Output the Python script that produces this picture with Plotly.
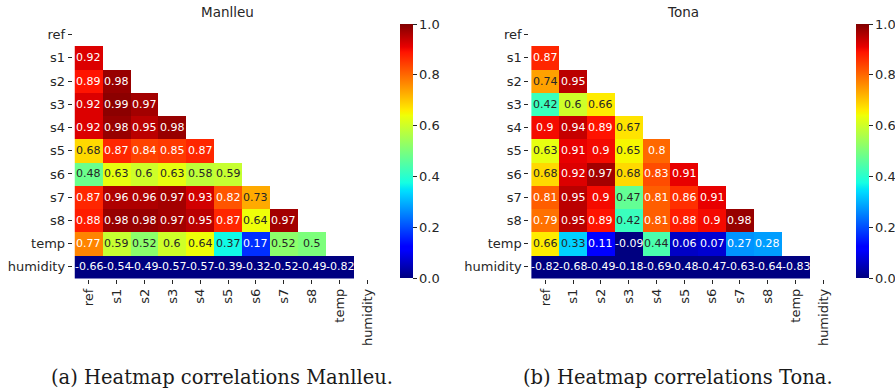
import plotly.graph_objects as go

labels = ["ref", "s1", "s2", "s3", "s4", "s5", "s6", "s7", "s8", "temp", "humidity"]

# lower-triangle correlations (rows s1..humidity, columns ref..)
manlleu_rows = [
    [0.92],
    [0.89, 0.98],
    [0.92, 0.99, 0.97],
    [0.92, 0.98, 0.95, 0.98],
    [0.68, 0.87, 0.84, 0.85, 0.87],
    [0.48, 0.63, 0.60, 0.63, 0.58, 0.59],
    [0.87, 0.96, 0.96, 0.97, 0.93, 0.82, 0.73],
    [0.88, 0.98, 0.98, 0.97, 0.95, 0.87, 0.64, 0.97],
    [0.77, 0.59, 0.52, 0.60, 0.64, 0.37, 0.17, 0.52, 0.50],
    [-0.66, -0.54, -0.49, -0.57, -0.57, -0.39, -0.32, -0.52, -0.49, -0.82],
]
tona_rows = [
    [0.87],
    [0.74, 0.95],
    [0.42, 0.60, 0.66],
    [0.90, 0.94, 0.89, 0.67],
    [0.63, 0.91, 0.90, 0.65, 0.80],
    [0.68, 0.92, 0.97, 0.68, 0.83, 0.91],
    [0.81, 0.95, 0.90, 0.47, 0.81, 0.86, 0.91],
    [0.79, 0.95, 0.89, 0.42, 0.81, 0.88, 0.90, 0.98],
    [0.66, 0.33, 0.11, -0.09, 0.44, 0.06, 0.07, 0.27, 0.28],
    [-0.82, -0.68, -0.49, -0.18, -0.69, -0.48, -0.47, -0.63, -0.64, -0.83],
]
titles = ["Manlleu", "Tona"]
captions = ["(a) Heatmap correlations Manlleu.", "(b) Heatmap correlations Tona."]
cbar_ticks = [0.0, 0.2, 0.4, 0.6, 0.8, 1.0]

# matplotlib 'jet' segment data
JET = {
    "r": [(0, 0), (0.35, 0), (0.66, 1), (0.89, 1), (1, 0.5)],
    "g": [(0, 0), (0.125, 0), (0.375, 1), (0.64, 1), (0.91, 0), (1, 0)],
    "b": [(0, 0.5), (0.11, 1), (0.34, 1), (0.65, 0), (1, 0)],
}


def interp(pts, v):
    for (x0, y0), (x1, y1) in zip(pts[:-1], pts[1:]):
        if x0 <= v <= x1:
            return y0 + (y1 - y0) * (v - x0) / (x1 - x0) if x1 > x0 else y1
    return pts[-1][1]


def jet(v):
    v = min(max(v, 0.0), 1.0)
    return tuple(interp(JET[c], v) for c in "rgb")


stops = sorted({p[0] for c in JET.values() for p in c})
colorscale = []
for s in stops:
    r, g, b = jet(s)
    colorscale.append([s, f"rgb({round(r*255)},{round(g*255)},{round(b*255)})"])


def lum(v):
    rgb = jet(v)
    lin = [c / 12.92 if c <= 0.03928 else ((c + 0.055) / 1.055) ** 2.4 for c in rgb]
    return 0.2126 * lin[0] + 0.7152 * lin[1] + 0.0722 * lin[2]


def build_z(rows):
    n = len(labels)
    z = [[None] * n]
    for r in rows:
        z.append(list(r) + [None] * (n - len(r)))
    return z


W, H = 895, 392
panels = [
    dict(rows=manlleu_rows, x0=72.7, x1=381.3, cbx=400),
    dict(rows=tona_rows, x0=529.3, x1=837.3, cbx=856),
]
y_top, y_bot = 23.0, 278.5
TXT = "#262626"

fig = go.Figure()
annotations = []
for i, p in enumerate(panels):
    sfx = "" if i == 0 else str(i + 1)
    z = build_z(p["rows"])
    fig.add_trace(go.Heatmap(
        z=z, x=labels, y=labels, xaxis="x" + sfx, yaxis="y" + sfx,
        zmin=0, zmax=1, colorscale=colorscale, hoverongaps=False,
        colorbar=dict(
            x=p["cbx"] / W, xanchor="left", xpad=0, ypad=0,
            y=1 - 24 / H, yanchor="top", len=(278 - 24) / H, lenmode="fraction",
            thickness=13, thicknessmode="pixels", outlinewidth=0,
            tickvals=cbar_ticks, ticktext=[f"{t:.1f}" for t in cbar_ticks],
            ticks="outside", ticklen=4, tickcolor=TXT,
            tickfont=dict(family="DejaVu Sans", size=13, color=TXT),
        ),
    ))
    ax = dict(
        domain=[p["x0"] / W, p["x1"] / W], anchor="y" + sfx,
        showgrid=False, zeroline=False, showline=False,
        ticks="outside", ticklen=4, tickcolor=TXT, tickangle=-90,
        tickfont=dict(family="DejaVu Sans", size=13, color=TXT),
        type="category", automargin=False,
    )
    ay = dict(
        domain=[1 - y_bot / H, 1 - y_top / H], anchor="x" + sfx,
        showgrid=False, zeroline=False, showline=False, autorange="reversed",
        ticks="outside", ticklen=4, tickcolor=TXT,
        tickfont=dict(family="DejaVu Sans", size=13, color=TXT),
        type="category", automargin=False,
    )
    fig.update_layout(**{"xaxis" + sfx: ax, "yaxis" + sfx: ay})
    for ri, row in enumerate(p["rows"]):
        for ci, v in enumerate(row):
            annotations.append(dict(
                x=labels[ci], y=labels[ri + 1], xref="x" + sfx, yref="y" + sfx,
                text=f"{v:.2g}", showarrow=False,
                font=dict(family="DejaVu Sans", size=11,
                          color=TXT if lum(v) > 0.408 else "white"),
            ))
    cx = (p["x0"] + p["x1"]) / 2 / W
    annotations.append(dict(
        x=cx, y=1 - 12 / H, xref="paper", yref="paper", text=titles[i],
        showarrow=False, xanchor="center", yanchor="middle",
        font=dict(family="DejaVu Sans", size=13.5, color=TXT),
    ))

cap_x = [222, 678]
for i, c in enumerate(captions):
    annotations.append(dict(
        x=cap_x[i] / W, y=1 - 377 / H, xref="paper", yref="paper", text=c,
        showarrow=False, xanchor="center", yanchor="middle",
        font=dict(family="DejaVu Serif", size=19.5, color="#1a1a1a"),
    ))

fig.update_layout(
    width=W, height=H, margin=dict(l=0, r=0, t=0, b=0, autoexpand=False),
    paper_bgcolor="white", plot_bgcolor="white",
    annotations=annotations, showlegend=False,
)
fig.write_html(
    "out.html",
    config={"displayModeBar": False},
    post_script="document.body.style.margin='0';document.body.style.padding='0';"
                "document.body.style.overflow='hidden';",
)
